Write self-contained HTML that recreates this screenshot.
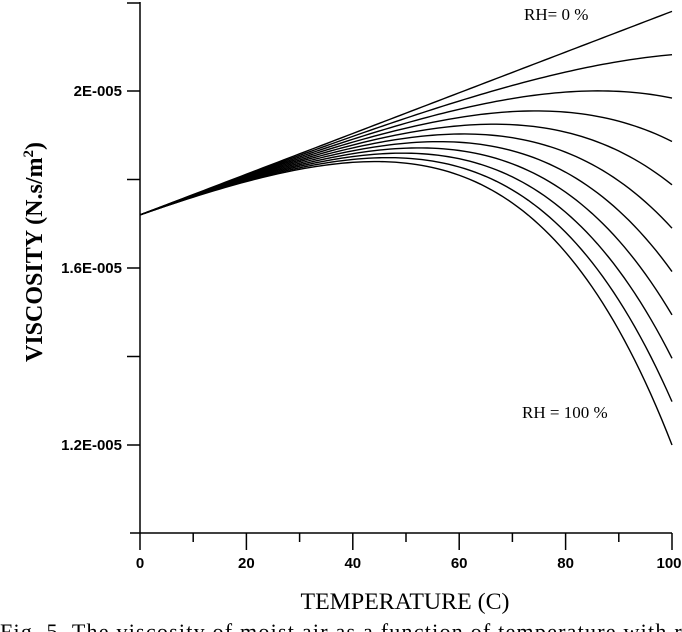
<!DOCTYPE html>
<html><head><meta charset="utf-8"><style>body{margin:0;background:#fff}svg{display:block}</style></head>
<body>
<svg id="s" width="682" height="632" viewBox="0 0 682 632" xmlns="http://www.w3.org/2000/svg">
<g stroke="#000" stroke-width="1.5" fill="none">
<line x1="140" y1="2" x2="140" y2="550"/>
<line x1="130" y1="533" x2="672" y2="533"/>
<line x1="127" y1="3" x2="140" y2="3"/>
<line x1="127" y1="91" x2="140" y2="91"/>
<line x1="127" y1="179.5" x2="140" y2="179.5"/>
<line x1="127" y1="268" x2="140" y2="268"/>
<line x1="127" y1="356.5" x2="140" y2="356.5"/>
<line x1="127" y1="445" x2="140" y2="445"/>
</g>
<g id="xt" stroke="#000" stroke-width="1.5"></g>
<g id="curves" stroke="#000" stroke-width="1.4" fill="none"></g>
<g font-family="Liberation Sans, Arial, sans-serif" font-weight="bold" font-size="15" text-anchor="end">
<text x="122" y="96">2E-005</text>
<text x="122" y="273">1.6E-005</text>
<text x="122" y="450">1.2E-005</text>
</g>
<g font-family="Liberation Sans, Arial, sans-serif" font-weight="bold" font-size="15" text-anchor="middle">
<text x="140" y="568">0</text>
<text x="246.4" y="568">20</text>
<text x="352.8" y="568">40</text>
<text x="459.2" y="568">60</text>
<text x="565.6" y="568">80</text>
<text x="669" y="568">100</text>
</g>
<text x="405" y="609" font-family="Liberation Serif, serif" font-size="23" text-anchor="middle" textLength="209" lengthAdjust="spacingAndGlyphs">TEMPERATURE (C)</text>
<text transform="translate(42,252) rotate(-90)" font-family="Liberation Serif, serif" font-weight="bold" font-size="24" text-anchor="middle">VISCOSITY (N.s/m<tspan dy="-9" font-size="15">2</tspan><tspan dy="9">)</tspan></text>
<text x="524" y="20" font-family="Liberation Serif, serif" font-size="17">RH= 0 %</text>
<text x="522" y="418" font-family="Liberation Serif, serif" font-size="17">RH = 100 %</text>
<text x="0" y="639" font-family="Liberation Serif, serif" font-size="22" textLength="700" lengthAdjust="spacing">Fig. 5. The viscosity of moist air as a function of temperature with rel</text>
</svg>
<script>
var ns="http://www.w3.org/2000/svg";
function X(t){return 140+t*5.32;}
function Y(v){return 91+(2.0-v)/0.4*177;}
function ps(t){return Math.exp(17.27*t/(t+237.3));}
var p100=ps(100);
var g=document.getElementById('curves');
for(var k=0;k<=10;k++){
 var d="";
 for(var t=0;t<=100;t+=1){
  var v=1.72+0.0046*t-(k/10)*0.98*(ps(t)-1)/(p100-1);
  d+=(t?"L":"M")+X(t).toFixed(2)+","+Y(v).toFixed(2);
 }
 var p=document.createElementNS(ns,"path");p.setAttribute("d",d);g.appendChild(p);
}
var xt=document.getElementById('xt');
for(var i=1;i<=10;i++){
 var x=X(i*10);var l=document.createElementNS(ns,"line");
 l.setAttribute("x1",x);l.setAttribute("x2",x);l.setAttribute("y1",533);l.setAttribute("y2",i%2?542:550);
 xt.appendChild(l);
}
</script>
</body></html>
